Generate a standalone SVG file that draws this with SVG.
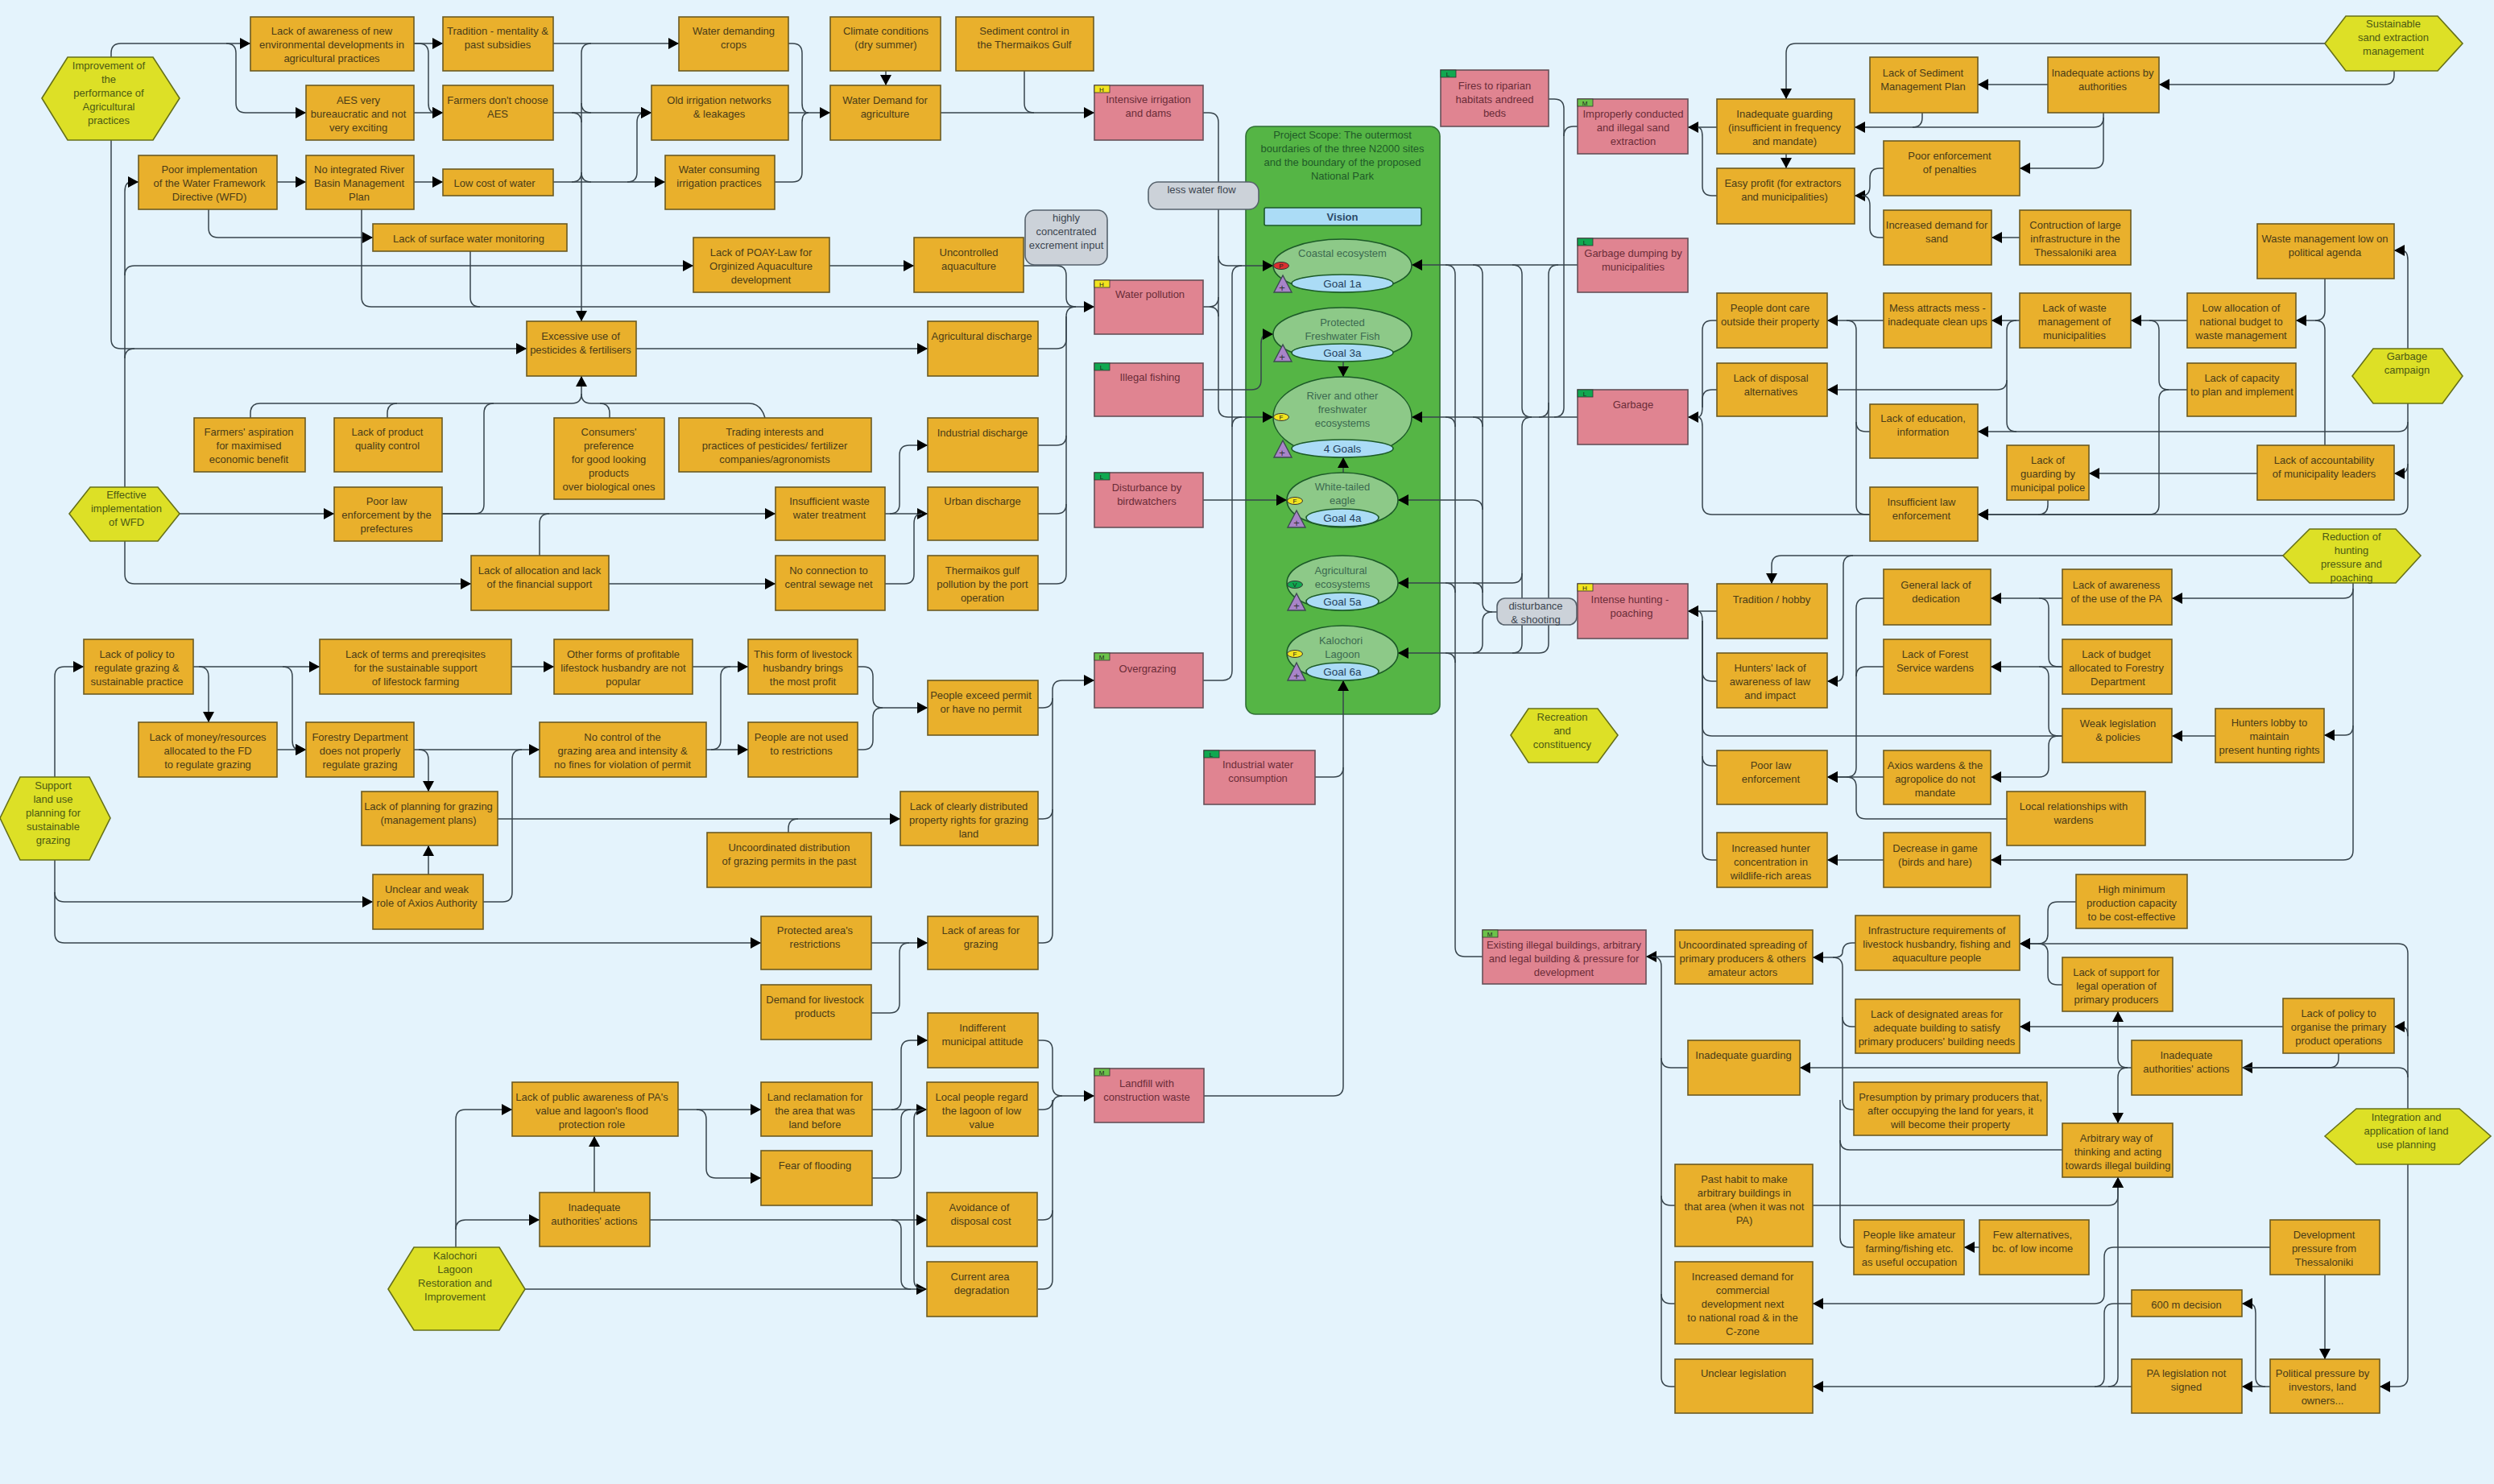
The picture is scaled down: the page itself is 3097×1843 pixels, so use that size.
<svg xmlns="http://www.w3.org/2000/svg" width="3097" height="1843" viewBox="0 0 3097 1843">
<style>
text{font-family:"Liberation Sans",Arial,sans-serif;font-size:13px;text-anchor:middle;fill:#4a3c18}
.o rect{fill:#e9b02c;stroke:#6b5a22;stroke-width:1.6}
.p>rect:not(.tg){fill:#e08491;stroke:#665058;stroke-width:1.6}
.p text{fill:#6a2c38}
.h polygon{fill:#dde026;stroke:#66701a;stroke-width:1.6}
.h text{fill:#4c5a14}
.g rect{fill:#ccd2d9;stroke:#56626c;stroke-width:1.6}
.g text{fill:#3c4650}
.c path{fill:none;stroke:#37444c;stroke-width:1.5}
.a{marker-end:url(#ah)}
.e ellipse.m{fill:#8dc988;stroke:#1c5a28;stroke-width:1.6}
.e ellipse.b{fill:#abdcf6;stroke:#1c5a28;stroke-width:1.6}
.e text{fill:#3c6a50}
.e text.l{fill:#24405c;font-size:13.5px}
.e polygon{fill:#a884c8;stroke:#3c4a50;stroke-width:1.4}
.tg{stroke:#333;stroke-width:.8}
.tt{font-size:8px;fill:#222!important}
</style>
<defs>
<marker id="ah" markerUnits="userSpaceOnUse" markerWidth="14" markerHeight="14" refX="13" refY="7" orient="auto"><path d="M0 0L13 7L0 14z" fill="#000"/></marker>
</defs>
<rect width="3097" height="1843" fill="#e4f3fc"/>
<g id="scope"><rect x="1547" y="157" width="241" height="730" rx="12" fill="#55b545" stroke="#2f6e34" stroke-width="1.6"/>
<text x="1667" y="172" style="fill:#1f5a28">Project Scope: The outermost<tspan x="1667" dy="17">bourdaries of the three N2000 sites</tspan><tspan x="1667" dy="17">and the boundary of the proposed</tspan><tspan x="1667" dy="17">National Park</tspan></text></g>
<g id="connectors" class="c">
<path class="a" d="M138 71V66Q138 54 150 54H311"/>
<path class="a" d="M281 54Q293 54 293 66V128Q293 140 305 140H380"/>
<path class="a" d="M138 174V421Q138 433 150 433H654"/>
<path d="M155 605V445Q155 433 167 433"/>
<path class="a" d="M155 445V342Q155 330 167 330H861"/>
<path class="a" d="M155 342V238Q155 226 163 226H172"/>
<path class="a" d="M514 54H550"/>
<path class="a" d="M514 54H520Q532 54 532 66V128Q532 140 540 140H550"/>
<path class="a" d="M514 140H550"/>
<path class="a" d="M687 54H843"/>
<path class="a" d="M734 54Q722 54 722 66V399"/>
<path class="a" d="M687 140H809"/>
<path class="a" d="M687 226H826"/>
<path d="M710 140Q722 140 722 152M734 140Q722 140 722 128M710 226Q722 226 722 214M734 226Q722 226 722 214"/>
<path class="a" d="M779 226Q791 226 791 214V152Q791 140 801 140H809"/>
<path class="a" d="M344 226H380"/>
<path class="a" d="M514 226H550"/>
<path class="a" d="M259 260V283Q259 295 271 295H463"/>
<path class="a" d="M449 260V369Q449 381 461 381H1359"/>
<path d="M584 312V369Q584 381 596 381"/>
<path class="a" d="M790 433H1152"/>
<path class="a" d="M311 519V513Q311 501 323 501H710Q722 501 722 489V467"/>
<path d="M481 519V513Q481 501 493 501"/>
<path d="M549 638H590Q601 638 601 626V513Q601 501 613 501"/>
<path d="M757 519V513Q757 501 745 501H734Q722 501 722 489"/>
<path d="M950 519Q945 501 930 501H745"/>
<path class="a" d="M223 638H415"/>
<path class="a" d="M549 638H963"/>
<path d="M670 690V650Q670 638 682 638"/>
<path class="a" d="M155 672V713Q155 725 167 725H585"/>
<path class="a" d="M756 725H963"/>
<path class="a" d="M1099 638H1152"/>
<path class="a" d="M1105 638Q1117 638 1117 626V565Q1117 553 1129 553H1152"/>
<path d="M1099 725H1123Q1135 725 1135 713V650Q1135 638 1145 638"/>
<path d="M1289 433H1312Q1324 433 1324 421V393Q1324 381 1336 381"/>
<path d="M1289 553H1312Q1324 553 1324 541V393"/>
<path d="M1289 638H1312Q1324 638 1324 626V541"/>
<path d="M1289 725H1312Q1324 725 1324 713V626"/>
<path d="M1271 330H1312Q1324 330 1324 342V369Q1324 381 1336 381"/>
<path class="a" d="M1030 330H1135"/>
<path d="M979 54H984Q996 54 996 66V128Q996 140 1004 140"/>
<path d="M962 226H984Q996 226 996 214V152Q996 140 1004 140"/>
<path class="a" d="M979 140H1031"/>
<path class="a" d="M1100 88V106"/>
<path class="a" d="M1168 140H1359"/>
<path d="M1272 88V128Q1272 140 1284 140"/>
<path class="a" d="M1494 140H1501Q1513 140 1513 152V318Q1513 330 1525 330H1581"/>
<path class="a" d="M1513 318V506Q1513 518 1525 518H1581"/>
<path d="M1494 381H1501Q1513 381 1513 369M1501 381Q1513 381 1513 393"/>
<path class="a" d="M1494 484H1554Q1566 484 1566 472V427Q1566 415 1574 415H1581"/>
<path d="M1494 845H1518Q1530 845 1530 833V342Q1530 330 1542 330"/>
<path d="M1530 530Q1530 518 1542 518"/>
<path class="a" d="M1494 621H1598"/>
<path class="a" d="M1668 449V468"/>
<path class="a" d="M1668 587V568"/>
<path class="a" d="M1633 965H1656Q1668 965 1668 953V845"/>
<path d="M1495 1361H1656Q1668 1361 1668 1349V953"/>
<path class="a" d="M1959 329H1753"/>
<path d="M1795 329Q1807 329 1807 341V1176Q1807 1188 1819 1188H1841"/>
<path d="M1795 518Q1807 518 1807 530M1795 724Q1807 724 1807 736M1795 811Q1807 811 1807 823"/>
<path d="M1859 760H1853Q1841 760 1841 748V341Q1841 329 1829 329"/>
<path d="M1829 518Q1841 518 1841 530M1829 621Q1841 621 1841 633M1829 724Q1841 724 1841 736"/>
<path class="a" d="M1853 760Q1841 760 1841 772V799Q1841 811 1829 811H1736"/>
<path class="a" d="M1829 621H1736"/>
<path class="a" d="M1829 724H1736"/>
<path d="M1878 329Q1890 329 1890 341V506Q1890 518 1902 518"/>
<path d="M1902 518Q1890 518 1890 530V712Q1890 724 1878 724H1829"/>
<path d="M1890 712V799Q1890 811 1878 811H1829"/>
<path d="M1935 329Q1923 329 1923 341V506Q1923 518 1911 518"/>
<path d="M1923 500V799Q1923 811 1911 811H1878"/>
<path d="M1923 123H1930Q1942 123 1942 135V506Q1942 518 1930 518"/>
<path d="M1959 157H1954Q1942 157 1942 169"/>
<path class="a" d="M1959 518H1753"/>
<path class="a" d="M2887 54H2230Q2218 54 2218 66V123"/>
<path class="a" d="M2973 88V93Q2973 105 2961 105H2681"/>
<path class="a" d="M2543 105H2456"/>
<path class="a" d="M2387 140V146Q2387 158 2375 158H2303"/>
<path d="M2612 140V146Q2612 158 2600 158H2375"/>
<path class="a" d="M2612 146V197Q2612 209 2600 209H2508"/>
<path class="a" d="M2132 158H2096"/>
<path d="M2132 243H2126Q2114 243 2114 231V170Q2114 158 2108 158"/>
<path class="a" d="M2218 191V209"/>
<path class="a" d="M2339 209H2334Q2322 209 2322 221V231Q2322 243 2312 243H2303"/>
<path d="M2339 295H2334Q2322 295 2322 283V255Q2322 243 2312 243"/>
<path class="a" d="M2508 295H2473"/>
<path class="a" d="M2887 346V386Q2887 398 2875 398H2851"/>
<path class="a" d="M2716 398H2646"/>
<path class="a" d="M2508 398H2473"/>
<path class="a" d="M2339 398H2269"/>
<path d="M2716 484H2693Q2681 484 2681 472V410Q2681 398 2669 398"/>
<path class="a" d="M2693 484Q2681 484 2681 496V627Q2681 639 2669 639H2456"/>
<path class="a" d="M2504 398Q2492 398 2492 410V472Q2492 484 2480 484H2269"/>
<path d="M2492 472V524Q2492 536 2504 536"/>
<path class="a" d="M2990 501V524Q2990 536 2978 536H2456"/>
<path class="a" d="M2990 433V323Q2990 311 2982 311H2973"/>
<path class="a" d="M2990 524V627Q2990 639 2978 639H2456"/>
<path class="a" d="M2990 576Q2990 588 2980 588H2973"/>
<path class="a" d="M2803 588H2594"/>
<path d="M2887 553V410Q2887 398 2875 398"/>
<path d="M2543 621V627Q2543 639 2531 639"/>
<path d="M2322 536H2317Q2305 536 2305 524V410Q2305 398 2293 398"/>
<path d="M2322 639H2317Q2305 639 2305 627V524"/>
<path class="a" d="M2132 398H2126Q2114 398 2114 410V506Q2114 518 2108 518H2096"/>
<path d="M2132 484H2126Q2114 484 2114 496V506"/>
<path d="M2322 639H2126Q2114 639 2114 627V530Q2114 518 2108 518"/>
<path class="a" d="M2835 690H2212Q2200 690 2200 702V725"/>
<path class="a" d="M2301 690Q2289 690 2289 702V834Q2289 846 2281 846H2269"/>
<path class="a" d="M2922 724V731Q2922 743 2910 743H2697"/>
<path class="a" d="M2922 731V901Q2922 913 2912 913H2886"/>
<path class="a" d="M2922 901V1056Q2922 1068 2910 1068H2472"/>
<path class="a" d="M2561 743H2472"/>
<path class="a" d="M2561 828H2472"/>
<path d="M2561 828H2556Q2544 828 2544 816V755Q2544 743 2532 743"/>
<path class="a" d="M2751 914H2697"/>
<path d="M2561 914H2556Q2544 914 2544 902V840Q2544 828 2532 828"/>
<path class="a" d="M2556 914Q2544 914 2544 926V953Q2544 965 2532 965H2472"/>
<path class="a" d="M2561 914H2126Q2114 914 2114 902V771Q2114 759 2108 759H2096"/>
<path class="a" d="M2132 759H2096"/>
<path d="M2132 846H2126Q2114 846 2114 834V771"/>
<path d="M2132 951H2126Q2114 951 2114 939V771"/>
<path d="M2132 1068H2126Q2114 1068 2114 1056V939"/>
<path class="a" d="M2339 743H2317Q2305 743 2305 755V953Q2305 965 2293 965H2269"/>
<path d="M2339 828H2317Q2305 828 2305 840"/>
<path class="a" d="M2339 965H2269"/>
<path d="M2492 1017H2317Q2305 1017 2305 1005V977Q2305 965 2293 965"/>
<path class="a" d="M2339 1068H2269"/>
<path class="a" d="M2080 1188H2044"/>
<path class="a" d="M2304 1171H2300Q2288 1171 2288 1183Q2288 1189 2276 1189H2251"/>
<path d="M2304 1275H2300Q2288 1275 2288 1263V1201Q2288 1189 2276 1189"/>
<path d="M2304 1378H2300Q2288 1378 2288 1366V1263"/>
<path d="M2561 1428H2297Q2285 1428 2285 1416V1366"/>
<path d="M2302 1549H2297Q2285 1549 2285 1537V1416"/>
<path d="M2096 1326H2075Q2063 1326 2063 1314V1200Q2063 1188 2051 1188"/>
<path d="M2080 1497H2075Q2063 1497 2063 1485V1314"/>
<path d="M2080 1619H2075Q2063 1619 2063 1607V1485"/>
<path d="M2080 1722H2075Q2063 1722 2063 1710V1607"/>
<path class="a" d="M2647 1326H2235"/>
<path class="a" d="M2642 1326Q2630 1326 2630 1314V1256"/>
<path class="a" d="M2642 1326Q2630 1326 2630 1338V1395"/>
<path class="a" d="M2835 1275H2508"/>
<path class="a" d="M2904 1308V1314Q2904 1326 2892 1326H2784"/>
<path class="a" d="M2578 1120H2555Q2543 1120 2543 1132V1160Q2543 1172 2531 1172H2508"/>
<path d="M2561 1223H2555Q2543 1223 2543 1211V1184Q2543 1172 2531 1172"/>
<path class="a" d="M2990 1377V1184Q2990 1172 2978 1172H2508"/>
<path class="a" d="M2990 1287Q2990 1275 2982 1275H2973"/>
<path d="M2990 1338Q2990 1326 2978 1326H2784"/>
<path class="a" d="M2990 1446V1710Q2990 1722 2978 1722H2955"/>
<path class="a" d="M2887 1583V1688"/>
<path class="a" d="M2819 1549H2625Q2613 1549 2613 1561V1607Q2613 1619 2601 1619H2251"/>
<path d="M2647 1619H2625Q2613 1619 2613 1631V1710Q2613 1722 2601 1722"/>
<path class="a" d="M2819 1722H2784"/>
<path class="a" d="M2813 1722Q2801 1722 2801 1710V1631Q2801 1619 2793 1619H2784"/>
<path class="a" d="M2647 1722H2251"/>
<path class="a" d="M2618 1722Q2630 1722 2630 1710V1462"/>
<path class="a" d="M2251 1497H2618Q2630 1497 2630 1485V1462"/>
<path class="a" d="M2458 1549H2439"/>
<path class="a" d="M68 965V840Q68 828 80 828H104"/>
<path class="a" d="M68 1068V1108Q68 1120 80 1120H463"/>
<path class="a" d="M68 1108V1159Q68 1171 80 1171H945"/>
<path class="a" d="M240 828H397"/>
<path class="a" d="M247 828Q259 828 259 840V897"/>
<path class="a" d="M351 828Q363 828 363 840V919Q363 931 371 931H380"/>
<path class="a" d="M344 931H380"/>
<path class="a" d="M514 931H670"/>
<path class="a" d="M520 931Q532 931 532 943V983"/>
<path class="a" d="M532 1086V1050"/>
<path d="M600 1120H624Q636 1120 636 1108V943Q636 931 648 931"/>
<path class="a" d="M618 1017H1118"/>
<path d="M979 1034V1029Q979 1017 991 1017"/>
<path class="a" d="M635 828H688"/>
<path class="a" d="M860 828H929"/>
<path class="a" d="M877 931H929"/>
<path d="M883 931Q895 931 895 919V840Q895 828 907 828"/>
<path class="a" d="M1065 828H1072Q1084 828 1084 840V867Q1084 879 1096 879H1152"/>
<path d="M1065 931H1072Q1084 931 1084 919V891Q1084 879 1096 879"/>
<path class="a" d="M1289 879H1295Q1307 879 1307 867V857Q1307 845 1319 845H1359"/>
<path d="M1289 1017H1295Q1307 1017 1307 1005V867"/>
<path d="M1289 1171H1295Q1307 1171 1307 1159V1005"/>
<path class="a" d="M1082 1171H1152"/>
<path d="M1082 1258H1105Q1117 1258 1117 1246V1183Q1117 1171 1129 1171"/>
<path class="a" d="M566 1549V1390Q566 1378 578 1378H636"/>
<path class="a" d="M566 1527Q566 1515 578 1515H670"/>
<path class="a" d="M652 1601H1151"/>
<path class="a" d="M738 1481V1411"/>
<path class="a" d="M807 1515H1151"/>
<path d="M1107 1515Q1119 1515 1119 1527V1589Q1119 1601 1131 1601"/>
<path class="a" d="M842 1378H945"/>
<path class="a" d="M865 1378Q877 1378 877 1390V1451Q877 1463 889 1463H945"/>
<path class="a" d="M1083 1378H1151"/>
<path class="a" d="M1107 1378Q1119 1378 1119 1366V1304Q1119 1292 1131 1292H1152"/>
<path d="M1083 1463H1107Q1119 1463 1119 1451V1390Q1119 1378 1131 1378"/>
<path d="M1147 1378Q1135 1378 1135 1390V1589Q1135 1601 1147 1601"/>
<path class="a" d="M1289 1292H1295Q1307 1292 1307 1304V1349Q1307 1361 1319 1361H1359"/>
<path d="M1289 1378H1295Q1307 1378 1307 1366"/>
<path d="M1289 1515H1295Q1307 1515 1307 1503V1373Q1307 1361 1319 1361"/>
<path d="M1289 1601H1295Q1307 1601 1307 1589V1503"/>
</g>
<g id="vision"><rect x="1570" y="258" width="195" height="22" rx="2" fill="#abdcf6" stroke="#1c5a28" stroke-width="1.6"/><text x="1667" y="274" style="fill:#2c4a68;font-weight:bold">Vision</text></g>
<g id="coastal" class="e"><ellipse class="m" cx="1667" cy="330" rx="86" ry="33"/><text x="1667" y="319">Coastal ecosystem</text><ellipse class="b" cx="1667" cy="352" rx="63" ry="11"/><text class="l" x="1667" y="357">Goal 1a</text><ellipse cx="1591" cy="330" rx="9.5" ry="4.5" fill="#d93030" stroke="#333"/><text class="tt" x="1591" y="333">P</text><polygon points="1593,342 1582,363 1604,363"/><text x="1592" y="362" style="fill:#333">+</text></g>
<g id="fish" class="e"><ellipse class="m" cx="1667" cy="415" rx="86" ry="33"/><text x="1667" y="405">Protected<tspan x="1667" dy="17">Freshwater Fish</tspan></text><ellipse class="b" cx="1667" cy="438" rx="63" ry="11"/><text class="l" x="1667" y="443">Goal 3a</text><polygon points="1593,428 1582,449 1604,449"/><text x="1592" y="448" style="fill:#333">+</text></g>
<g id="river" class="e"><ellipse class="m" cx="1667" cy="518" rx="86" ry="50"/><text x="1667" y="496">River and other<tspan x="1667" dy="17">freshwater</tspan><tspan x="1667" dy="17">ecosystems</tspan></text><ellipse class="b" cx="1667" cy="557" rx="63" ry="11"/><text class="l" x="1667" y="562">4 Goals</text><ellipse cx="1591" cy="518" rx="9.5" ry="4.5" fill="#f2e41f" stroke="#333"/><text class="tt" x="1591" y="521">F</text><polygon points="1593,547 1582,568 1604,568"/><text x="1592" y="567" style="fill:#333">+</text></g>
<g id="eagle" class="e"><ellipse class="m" cx="1667" cy="621" rx="69" ry="34"/><text x="1667" y="609">White-tailed<tspan x="1667" dy="17">eagle</tspan></text><ellipse class="b" cx="1667" cy="643" rx="45" ry="11"/><text class="l" x="1667" y="648">Goal 4a</text><ellipse cx="1608" cy="622" rx="9.5" ry="4.5" fill="#f2e41f" stroke="#333"/><text class="tt" x="1608" y="625">F</text><polygon points="1610,634 1599,655 1621,655"/><text x="1610" y="654" style="fill:#333">+</text></g>
<g id="agri" class="e"><ellipse class="m" cx="1667" cy="724" rx="69" ry="34"/><text x="1665" y="713">Agricultural<tspan x="1667" dy="17">ecosystems</tspan></text><ellipse class="b" cx="1667" cy="747" rx="45" ry="11"/><text class="l" x="1667" y="752">Goal 5a</text><ellipse cx="1608" cy="726" rx="9.5" ry="4.5" fill="#10a850" stroke="#333"/><text class="tt" x="1608" y="729">V</text><polygon points="1610,737 1599,758 1621,758"/><text x="1610" y="757" style="fill:#333">+</text></g>
<g id="kalochori" class="e"><ellipse class="m" cx="1667" cy="811" rx="69" ry="34"/><text x="1665" y="800">Kalochori<tspan x="1667" dy="17">Lagoon</tspan></text><ellipse class="b" cx="1667" cy="834" rx="45" ry="11"/><text class="l" x="1667" y="839">Goal 6a</text><ellipse cx="1608" cy="812" rx="9.5" ry="4.5" fill="#f2e41f" stroke="#333"/><text class="tt" x="1608" y="815">F</text><polygon points="1610,823 1599,845 1621,845"/><text x="1610" y="844" style="fill:#333">+</text></g>

<g id="h1" class="h"><polygon points="52,122 84,71 190,71 223,122 190,174 84,174"/><text x="135" y="86">Improvement of<tspan x="135" dy="17">the</tspan><tspan x="135" dy="17">performance of</tspan><tspan x="135" dy="17">Agricultural</tspan><tspan x="135" dy="17">practices</tspan></text></g>
<g id="h2" class="h"><polygon points="86,638 112,605 196,605 223,638 196,672 112,672"/><text x="157" y="619">Effective<tspan x="157" dy="17">implementation</tspan><tspan x="157" dy="17">of WFD</tspan></text></g>
<g id="h3" class="h"><polygon points="0,1016 25,965 111,965 137,1016 111,1068 25,1068"/><text x="66" y="980">Support<tspan x="66" dy="17">land use</tspan><tspan x="66" dy="17">planning for</tspan><tspan x="66" dy="17">sustainable</tspan><tspan x="66" dy="17">grazing</tspan></text></g>
<g id="h4" class="h"><polygon points="482,1601 514,1549 620,1549 652,1601 620,1652 514,1652"/><text x="565" y="1564">Kalochori<tspan x="565" dy="17">Lagoon</tspan><tspan x="565" dy="17">Restoration and</tspan><tspan x="565" dy="17">Improvement</tspan></text></g>
<g id="h5" class="h"><polygon points="2887,54 2913,20 3027,20 3058,54 3027,88 2913,88"/><text x="2972" y="34">Sustainable<tspan x="2972" dy="17">sand extraction</tspan><tspan x="2972" dy="17">management</tspan></text></g>
<g id="h6" class="h"><polygon points="2921,467 2947,433 3033,433 3058,467 3033,501 2947,501"/><text x="2989" y="447">Garbage<tspan x="2989" dy="17">campaign</tspan></text></g>
<g id="h7" class="h"><polygon points="2835,690 2868,657 2975,657 3006,690 2975,724 2868,724"/><text x="2920" y="671">Reduction of<tspan x="2920" dy="17">hunting</tspan><tspan x="2920" dy="17">pressure and</tspan><tspan x="2920" dy="17">poaching</tspan></text></g>
<g id="h8" class="h"><polygon points="2887,1411 2926,1377 3054,1377 3093,1411 3054,1446 2926,1446"/><text x="2988" y="1392">Integration and<tspan x="2988" dy="17">application of land</tspan><tspan x="2988" dy="17">use planning</tspan></text></g>
<g id="h9" class="h"><polygon points="1876,913 1898,880 1984,880 2009,913 1984,947 1898,947"/><text x="1940" y="895">Recreation<tspan x="1940" dy="17">and</tspan><tspan x="1940" dy="17">constituency</tspan></text></g>

<g id="g1" class="g"><rect x="1426" y="226" width="137" height="34" rx="12"/><text x="1492" y="240">less water flow</text></g>
<g id="g2" class="g"><rect x="1273" y="261" width="102" height="68" rx="12"/><text x="1324" y="275">highly<tspan x="1324" dy="17">concentrated</tspan><tspan x="1324" dy="17">excrement input</tspan></text></g>
<g id="g3" class="g"><rect x="1859" y="743" width="99" height="33" rx="10"/><text x="1907" y="757">disturbance<tspan x="1907" dy="17">&amp; shooting</tspan></text></g>

<g id="p1" class="p"><rect x="1359" y="106" width="135" height="68"/><rect class="tg" x="1359" y="106" width="19" height="9" fill="#f2e41f"/><text class="tt" x="1368" y="114">H</text><text x="1426" y="128">Intensive irrigation<tspan x="1426" dy="17">and dams</tspan></text></g>
<g id="p2" class="p"><rect x="1359" y="348" width="135" height="67"/><rect class="tg" x="1359" y="348" width="19" height="9" fill="#f2e41f"/><text class="tt" x="1368" y="356">H</text><text x="1428" y="370">Water pollution</text></g>
<g id="p3" class="p"><rect x="1359" y="451" width="135" height="66"/><rect class="tg" x="1359" y="451" width="19" height="9" fill="#10a850"/><text class="tt" x="1368" y="459">L</text><text x="1428" y="473">Illegal fishing</text></g>
<g id="p4" class="p"><rect x="1359" y="587" width="135" height="68"/><rect class="tg" x="1359" y="587" width="19" height="9" fill="#10a850"/><text class="tt" x="1368" y="595">L</text><text x="1424" y="610">Disturbance by<tspan x="1424" dy="17">birdwatchers</tspan></text></g>
<g id="p5" class="p"><rect x="1359" y="811" width="135" height="68"/><rect class="tg" x="1359" y="811" width="19" height="9" fill="#6cc24a"/><text class="tt" x="1368" y="819">M</text><text x="1425" y="835">Overgrazing</text></g>
<g id="p6" class="p"><rect x="1495" y="932" width="138" height="67"/><rect class="tg" x="1495" y="932" width="19" height="9" fill="#10a850"/><text class="tt" x="1504" y="940">L</text><text x="1562" y="954">Industrial water<tspan x="1562" dy="17">consumption</tspan></text></g>
<g id="p7" class="p"><rect x="1359" y="1327" width="136" height="67"/><rect class="tg" x="1359" y="1327" width="19" height="9" fill="#6cc24a"/><text class="tt" x="1368" y="1335">M</text><text x="1424" y="1350">Landfill with<tspan x="1424" dy="17">construction waste</tspan></text></g>
<g id="p8" class="p"><rect x="1789" y="87" width="134" height="70"/><rect class="tg" x="1789" y="87" width="19" height="9" fill="#10a850"/><text class="tt" x="1798" y="95">L</text><text x="1856" y="111">Fires to riparian<tspan x="1856" dy="17">habitats andreed</tspan><tspan x="1856" dy="17">beds</tspan></text></g>
<g id="p9" class="p"><rect x="1959" y="123" width="137" height="68"/><rect class="tg" x="1959" y="123" width="19" height="9" fill="#6cc24a"/><text class="tt" x="1968" y="131">M</text><text x="2028" y="146">Improperly conducted<tspan x="2028" dy="17">and illegal sand</tspan><tspan x="2028" dy="17">extraction</tspan></text></g>
<g id="p10" class="p"><rect x="1959" y="296" width="137" height="67"/><rect class="tg" x="1959" y="296" width="19" height="9" fill="#10a850"/><text class="tt" x="1968" y="304">L</text><text x="2028" y="319">Garbage dumping by<tspan x="2028" dy="17">municipalities</tspan></text></g>
<g id="p11" class="p"><rect x="1959" y="484" width="137" height="68"/><rect class="tg" x="1959" y="484" width="19" height="9" fill="#10a850"/><text class="tt" x="1968" y="492">L</text><text x="2028" y="507">Garbage</text></g>
<g id="p12" class="p"><rect x="1959" y="725" width="137" height="68"/><rect class="tg" x="1959" y="725" width="19" height="9" fill="#f2e41f"/><text class="tt" x="1968" y="733">H</text><text x="2024" y="749">Intense hunting -<tspan x="2026" dy="17">poaching</tspan></text></g>
<g id="p13" class="p"><rect x="1841" y="1155" width="203" height="67"/><rect class="tg" x="1841" y="1155" width="19" height="9" fill="#6cc24a"/><text class="tt" x="1850" y="1163">M</text><text x="1942" y="1178">Existing illegal buildings, arbitrary<tspan x="1942" dy="17">and legal building &amp; pressure for</tspan><tspan x="1942" dy="17">development</tspan></text></g>

<g id="o1" class="o"><rect x="311" y="21" width="203" height="67"/><text x="412" y="43">Lack of awareness of new<tspan x="412" dy="17">environmental developments in</tspan><tspan x="412" dy="17">agricultural practices</tspan></text></g>
<g id="o2" class="o"><rect x="550" y="21" width="137" height="67"/><text x="618" y="43">Tradition - mentality &amp;<tspan x="618" dy="17">past subsidies</tspan></text></g>
<g id="o3" class="o"><rect x="380" y="106" width="134" height="68"/><text x="445" y="129">AES very<tspan x="445" dy="17">bureaucratic and not</tspan><tspan x="445" dy="17">very exciting</tspan></text></g>
<g id="o4" class="o"><rect x="550" y="106" width="137" height="68"/><text x="618" y="129">Farmers don't choose<tspan x="618" dy="17">AES</tspan></text></g>
<g id="o5" class="o"><rect x="172" y="193" width="172" height="67"/><text x="260" y="215">Poor implementation<tspan x="260" dy="17">of the Water Framework</tspan><tspan x="260" dy="17">Directive (WFD)</tspan></text></g>
<g id="o6" class="o"><rect x="380" y="193" width="134" height="67"/><text x="446" y="215">No integrated River<tspan x="446" dy="17">Basin Management</tspan><tspan x="446" dy="17">Plan</tspan></text></g>
<g id="o7" class="o"><rect x="550" y="210" width="137" height="33"/><text x="614" y="232">Low cost of water</text></g>
<g id="o8" class="o"><rect x="463" y="278" width="241" height="34"/><text x="582" y="301">Lack of surface water monitoring</text></g>
<g id="o9" class="o"><rect x="654" y="399" width="136" height="68"/><text x="721" y="422">Excessive use of<tspan x="721" dy="17">pesticides &amp; fertilisers</tspan></text></g>
<g id="o10" class="o"><rect x="241" y="519" width="138" height="67"/><text x="309" y="541">Farmers' aspiration<tspan x="309" dy="17">for maximised</tspan><tspan x="309" dy="17">economic benefit</tspan></text></g>
<g id="o11" class="o"><rect x="415" y="519" width="134" height="67"/><text x="481" y="541">Lack of product<tspan x="481" dy="17">quality control</tspan></text></g>
<g id="o12" class="o"><rect x="688" y="519" width="137" height="101"/><text x="756" y="541">Consumers'<tspan x="756" dy="17">preference</tspan><tspan x="756" dy="17">for good looking</tspan><tspan x="756" dy="17">products</tspan><tspan x="756" dy="17">over biological ones</tspan></text></g>
<g id="o13" class="o"><rect x="843" y="21" width="136" height="67"/><text x="911" y="43">Water demanding<tspan x="911" dy="17">crops</tspan></text></g>
<g id="o14" class="o"><rect x="809" y="106" width="170" height="68"/><text x="893" y="129">Old irrigation networks<tspan x="893" dy="17">&amp; leakages</tspan></text></g>
<g id="o15" class="o"><rect x="826" y="193" width="136" height="67"/><text x="893" y="215">Water consuming<tspan x="893" dy="17">irrigation practices</tspan></text></g>
<g id="o16" class="o"><rect x="1031" y="21" width="137" height="67"/><text x="1100" y="43">Climate conditions<tspan x="1100" dy="17">(dry summer)</tspan></text></g>
<g id="o17" class="o"><rect x="1031" y="106" width="137" height="68"/><text x="1099" y="129">Water Demand for<tspan x="1099" dy="17">agriculture</tspan></text></g>
<g id="o18" class="o"><rect x="1187" y="21" width="171" height="67"/><text x="1272" y="43">Sediment control in<tspan x="1272" dy="17">the Thermaikos Gulf</tspan></text></g>
<g id="o19" class="o"><rect x="861" y="295" width="169" height="68"/><text x="945" y="318">Lack of POAY-Law for<tspan x="945" dy="17">Orginized Aquaculture</tspan><tspan x="945" dy="17">development</tspan></text></g>
<g id="o20" class="o"><rect x="1135" y="295" width="136" height="68"/><text x="1203" y="318">Uncontrolled<tspan x="1203" dy="17">aquaculture</tspan></text></g>
<g id="o21" class="o"><rect x="1152" y="399" width="137" height="68"/><text x="1219" y="422">Agricultural discharge</text></g>
<g id="o22" class="o"><rect x="843" y="519" width="239" height="67"/><text x="962" y="541">Trading interests and<tspan x="962" dy="17">practices of pesticides/ fertilizer</tspan><tspan x="962" dy="17">companies/agronomists</tspan></text></g>
<g id="o23" class="o"><rect x="1152" y="519" width="137" height="67"/><text x="1220" y="542">Industrial discharge</text></g>
<g id="o24" class="o"><rect x="415" y="605" width="134" height="67"/><text x="480" y="627">Poor law<tspan x="480" dy="17">enforcement by the</tspan><tspan x="480" dy="17">prefectures</tspan></text></g>
<g id="o25" class="o"><rect x="963" y="605" width="136" height="66"/><text x="1030" y="627">Insufficient waste<tspan x="1030" dy="17">water treatment</tspan></text></g>
<g id="o26" class="o"><rect x="1152" y="605" width="137" height="66"/><text x="1220" y="627">Urban discharge</text></g>
<g id="o27" class="o"><rect x="585" y="690" width="171" height="68"/><text x="670" y="713">Lack of allocation and lack<tspan x="670" dy="17">of the financial support</tspan></text></g>
<g id="o28" class="o"><rect x="963" y="690" width="136" height="68"/><text x="1029" y="713">No connection to<tspan x="1029" dy="17">central sewage net</tspan></text></g>
<g id="o29" class="o"><rect x="1152" y="690" width="137" height="68"/><text x="1220" y="713">Thermaikos gulf<tspan x="1220" dy="17">pollution by the port</tspan><tspan x="1220" dy="17">operation</tspan></text></g>
<g id="o30" class="o"><rect x="104" y="794" width="136" height="68"/><text x="170" y="817">Lack of policy to<tspan x="170" dy="17">regulate grazing &amp;</tspan><tspan x="170" dy="17">sustainable practice</tspan></text></g>
<g id="o31" class="o"><rect x="397" y="794" width="238" height="68"/><text x="516" y="817">Lack of terms and prereqisites<tspan x="516" dy="17">for the sustainable support</tspan><tspan x="516" dy="17">of lifestock farming</tspan></text></g>
<g id="o32" class="o"><rect x="688" y="794" width="172" height="68"/><text x="774" y="817">Other forms of profitable<tspan x="774" dy="17">lifestock husbandry are not</tspan><tspan x="774" dy="17">popular</tspan></text></g>
<g id="o33" class="o"><rect x="929" y="794" width="136" height="68"/><text x="997" y="817">This form of livestock<tspan x="997" dy="17">husbandry brings</tspan><tspan x="997" dy="17">the most profit</tspan></text></g>
<g id="o34" class="o"><rect x="172" y="897" width="172" height="68"/><text x="258" y="920">Lack of money/resources<tspan x="258" dy="17">allocated to the FD</tspan><tspan x="258" dy="17">to regulate grazing</tspan></text></g>
<g id="o35" class="o"><rect x="380" y="897" width="134" height="68"/><text x="447" y="920">Forestry Department<tspan x="447" dy="17">does not properly</tspan><tspan x="447" dy="17">regulate grazing</tspan></text></g>
<g id="o36" class="o"><rect x="670" y="897" width="207" height="68"/><text x="773" y="920">No control of the<tspan x="773" dy="17">grazing area and intensity &amp;</tspan><tspan x="773" dy="17">no fines for violation of permit</tspan></text></g>
<g id="o37" class="o"><rect x="929" y="897" width="136" height="68"/><text x="995" y="920">People are not used<tspan x="995" dy="17">to restrictions</tspan></text></g>
<g id="o38" class="o"><rect x="1152" y="845" width="137" height="68"/><text x="1218" y="868">People exceed permit<tspan x="1218" dy="17">or have no permit</tspan></text></g>
<g id="o39" class="o"><rect x="449" y="983" width="169" height="67"/><text x="532" y="1006">Lack of planning for grazing<tspan x="532" dy="17">(management plans)</tspan></text></g>
<g id="o40" class="o"><rect x="1118" y="983" width="171" height="67"/><text x="1203" y="1006">Lack of clearly distributed<tspan x="1203" dy="17">property rights for grazing</tspan><tspan x="1203" dy="17">land</tspan></text></g>
<g id="o41" class="o"><rect x="878" y="1034" width="204" height="68"/><text x="980" y="1057">Uncoordinated distribution<tspan x="980" dy="17">of grazing permits in the past</tspan></text></g>
<g id="o42" class="o"><rect x="463" y="1086" width="137" height="68"/><text x="530" y="1109">Unclear and weak<tspan x="530" dy="17">role of Axios Authority</tspan></text></g>
<g id="o43" class="o"><rect x="945" y="1138" width="137" height="66"/><text x="1012" y="1160">Protected area's<tspan x="1012" dy="17">restrictions</tspan></text></g>
<g id="o44" class="o"><rect x="1152" y="1138" width="137" height="66"/><text x="1218" y="1160">Lack of areas for<tspan x="1218" dy="17">grazing</tspan></text></g>
<g id="o45" class="o"><rect x="945" y="1223" width="137" height="68"/><text x="1012" y="1246">Demand for livestock<tspan x="1012" dy="17">products</tspan></text></g>
<g id="o46" class="o"><rect x="1152" y="1258" width="137" height="68"/><text x="1220" y="1281">Indifferent<tspan x="1220" dy="17">municipal attitude</tspan></text></g>
<g id="o47" class="o"><rect x="636" y="1344" width="206" height="67"/><text x="735" y="1367">Lack of public awareness of PA's<tspan x="735" dy="17">value and lagoon's flood</tspan><tspan x="735" dy="17">protection role</tspan></text></g>
<g id="o48" class="o"><rect x="945" y="1344" width="138" height="67"/><text x="1012" y="1367">Land reclamation for<tspan x="1012" dy="17">the area that was</tspan><tspan x="1012" dy="17">land before</tspan></text></g>
<g id="o49" class="o"><rect x="1151" y="1344" width="138" height="67"/><text x="1219" y="1367">Local people regard<tspan x="1219" dy="17">the lagoon of low</tspan><tspan x="1219" dy="17">value</tspan></text></g>
<g id="o50" class="o"><rect x="945" y="1429" width="138" height="68"/><text x="1012" y="1452">Fear of flooding</text></g>
<g id="o51" class="o"><rect x="670" y="1481" width="137" height="67"/><text x="738" y="1504">Inadequate<tspan x="738" dy="17">authorities' actions</tspan></text></g>
<g id="o52" class="o"><rect x="1151" y="1481" width="137" height="67"/><text x="1216" y="1504">Avoidance of<tspan x="1218" dy="17">disposal cost</tspan></text></g>
<g id="o53" class="o"><rect x="1151" y="1567" width="137" height="68"/><text x="1217" y="1590">Current area<tspan x="1219" dy="17">degradation</tspan></text></g>
<g id="o54" class="o"><rect x="2322" y="71" width="134" height="69"/><text x="2388" y="95">Lack of Sediment<tspan x="2388" dy="17">Management Plan</tspan></text></g>
<g id="o55" class="o"><rect x="2543" y="71" width="138" height="69"/><text x="2611" y="95">Inadequate actions by<tspan x="2611" dy="17">authorities</tspan></text></g>
<g id="o56" class="o"><rect x="2132" y="123" width="171" height="68"/><text x="2216" y="146">Inadequate guarding<tspan x="2216" dy="17">(insufficient in frequency</tspan><tspan x="2216" dy="17">and mandate)</tspan></text></g>
<g id="o57" class="o"><rect x="2132" y="209" width="171" height="69"/><text x="2214" y="232">Easy profit (for extractors<tspan x="2216" dy="17">and municipalities)</tspan></text></g>
<g id="o58" class="o"><rect x="2339" y="175" width="169" height="68"/><text x="2421" y="198">Poor enforcement<tspan x="2421" dy="17">of penalties</tspan></text></g>
<g id="o59" class="o"><rect x="2339" y="261" width="134" height="68"/><text x="2405" y="284">Increased demand for<tspan x="2405" dy="17">sand</tspan></text></g>
<g id="o60" class="o"><rect x="2508" y="261" width="138" height="68"/><text x="2577" y="284">Contruction of large<tspan x="2577" dy="17">infrastructure in the</tspan><tspan x="2577" dy="17">Thessaloniki area</tspan></text></g>
<g id="o61" class="o"><rect x="2803" y="278" width="170" height="68"/><text x="2887" y="301">Waste management low on<tspan x="2887" dy="17">political agenda</tspan></text></g>
<g id="o62" class="o"><rect x="2132" y="364" width="137" height="68"/><text x="2198" y="387">People dont care<tspan x="2198" dy="17">outside their property</tspan></text></g>
<g id="o63" class="o"><rect x="2339" y="364" width="134" height="68"/><text x="2406" y="387">Mess attracts mess -<tspan x="2406" dy="17">inadequate clean ups</tspan></text></g>
<g id="o64" class="o"><rect x="2508" y="364" width="138" height="68"/><text x="2576" y="387">Lack of waste<tspan x="2576" dy="17">management of</tspan><tspan x="2576" dy="17">municipalities</tspan></text></g>
<g id="o65" class="o"><rect x="2716" y="364" width="135" height="68"/><text x="2783" y="387">Low allocation of<tspan x="2783" dy="17">national budget to</tspan><tspan x="2783" dy="17">waste management</tspan></text></g>
<g id="o66" class="o"><rect x="2132" y="451" width="137" height="66"/><text x="2199" y="474">Lack of disposal<tspan x="2199" dy="17">alternatives</tspan></text></g>
<g id="o67" class="o"><rect x="2716" y="451" width="135" height="66"/><text x="2784" y="474">Lack of capacity<tspan x="2784" dy="17">to plan and implement</tspan></text></g>
<g id="o68" class="o"><rect x="2322" y="502" width="134" height="67"/><text x="2388" y="524">Lack of education,<tspan x="2388" dy="17">information</tspan></text></g>
<g id="o69" class="o"><rect x="2492" y="553" width="102" height="68"/><text x="2543" y="576">Lack of<tspan x="2543" dy="17">guarding by</tspan><tspan x="2543" dy="17">municipal police</tspan></text></g>
<g id="o70" class="o"><rect x="2803" y="553" width="170" height="68"/><text x="2886" y="576">Lack of accountability<tspan x="2886" dy="17">of municipality leaders</tspan></text></g>
<g id="o71" class="o"><rect x="2322" y="605" width="134" height="67"/><text x="2386" y="628">Insufficient law<tspan x="2386" dy="17">enforcement</tspan></text></g>
<g id="o72" class="o"><rect x="2132" y="725" width="137" height="68"/><text x="2200" y="749">Tradition / hobby</text></g>
<g id="o73" class="o"><rect x="2132" y="811" width="137" height="68"/><text x="2198" y="834">Hunters' lack of<tspan x="2198" dy="17">awareness of law</tspan><tspan x="2198" dy="17">and impact</tspan></text></g>
<g id="o74" class="o"><rect x="2339" y="707" width="133" height="69"/><text x="2404" y="731">General lack of<tspan x="2404" dy="17">dedication</tspan></text></g>
<g id="o75" class="o"><rect x="2561" y="707" width="136" height="69"/><text x="2628" y="731">Lack of awareness<tspan x="2628" dy="17">of the use of the PA</tspan></text></g>
<g id="o76" class="o"><rect x="2339" y="794" width="133" height="68"/><text x="2403" y="817">Lack of Forest<tspan x="2403" dy="17">Service wardens</tspan></text></g>
<g id="o77" class="o"><rect x="2561" y="794" width="136" height="68"/><text x="2628" y="817">Lack of budget<tspan x="2628" dy="17">allocated to Forestry</tspan><tspan x="2630" dy="17">Department</tspan></text></g>
<g id="o78" class="o"><rect x="2561" y="880" width="136" height="67"/><text x="2630" y="903">Weak legislation<tspan x="2630" dy="17">&amp; policies</tspan></text></g>
<g id="o79" class="o"><rect x="2751" y="880" width="135" height="67"/><text x="2818" y="902">Hunters lobby to<tspan x="2818" dy="17">maintain</tspan><tspan x="2818" dy="17">present hunting rights</tspan></text></g>
<g id="o80" class="o"><rect x="2132" y="932" width="137" height="67"/><text x="2199" y="955">Poor law<tspan x="2199" dy="17">enforcement</tspan></text></g>
<g id="o81" class="o"><rect x="2339" y="932" width="133" height="67"/><text x="2403" y="955">Axios wardens &amp; the<tspan x="2403" dy="17">agropolice do not</tspan><tspan x="2403" dy="17">mandate</tspan></text></g>
<g id="o82" class="o"><rect x="2492" y="983" width="172" height="67"/><text x="2575" y="1006">Local relationships with<tspan x="2575" dy="17">wardens</tspan></text></g>
<g id="o83" class="o"><rect x="2132" y="1034" width="137" height="68"/><text x="2199" y="1058">Increased hunter<tspan x="2199" dy="17">concentration in</tspan><tspan x="2199" dy="17">wildlife-rich areas</tspan></text></g>
<g id="o84" class="o"><rect x="2339" y="1034" width="133" height="68"/><text x="2403" y="1058">Decrease in game<tspan x="2403" dy="17">(birds and hare)</tspan></text></g>
<g id="o85" class="o"><rect x="2578" y="1086" width="138" height="67"/><text x="2647" y="1109">High minimum<tspan x="2647" dy="17">production capacity</tspan><tspan x="2647" dy="17">to be cost-effective</tspan></text></g>
<g id="o86" class="o"><rect x="2080" y="1155" width="171" height="67"/><text x="2164" y="1178">Uncoordinated spreading of<tspan x="2164" dy="17">primary producers &amp; others</tspan><tspan x="2164" dy="17">amateur actors</tspan></text></g>
<g id="o87" class="o"><rect x="2304" y="1137" width="204" height="68"/><text x="2405" y="1160">Infrastructure requirements of<tspan x="2405" dy="17">livestock husbandry, fishing and</tspan><tspan x="2405" dy="17">aquaculture people</tspan></text></g>
<g id="o88" class="o"><rect x="2561" y="1189" width="137" height="67"/><text x="2628" y="1212">Lack of support for<tspan x="2628" dy="17">legal operation of</tspan><tspan x="2628" dy="17">primary producers</tspan></text></g>
<g id="o89" class="o"><rect x="2304" y="1241" width="204" height="67"/><text x="2405" y="1264">Lack of designated areas for<tspan x="2405" dy="17">adequate building to satisfy</tspan><tspan x="2405" dy="17">primary producers' building needs</tspan></text></g>
<g id="o90" class="o"><rect x="2835" y="1240" width="138" height="68"/><text x="2904" y="1263">Lack of policy to<tspan x="2904" dy="17">organise the primary</tspan><tspan x="2904" dy="17">product operations</tspan></text></g>
<g id="o91" class="o"><rect x="2096" y="1292" width="139" height="68"/><text x="2165" y="1315">Inadequate guarding</text></g>
<g id="o92" class="o"><rect x="2647" y="1292" width="137" height="68"/><text x="2715" y="1315">Inadequate<tspan x="2715" dy="17">authorities' actions</tspan></text></g>
<g id="o93" class="o"><rect x="2302" y="1344" width="240" height="66"/><text x="2422" y="1367">Presumption by primary producers that,<tspan x="2422" dy="17">after occupying the land for years, it</tspan><tspan x="2422" dy="17">will become their property</tspan></text></g>
<g id="o94" class="o"><rect x="2561" y="1395" width="137" height="67"/><text x="2628" y="1418">Arbitrary way of<tspan x="2630" dy="17">thinking and acting</tspan><tspan x="2630" dy="17">towards illegal building</tspan></text></g>
<g id="o95" class="o"><rect x="2080" y="1446" width="171" height="102"/><text x="2166" y="1469">Past habit to make<tspan x="2166" dy="17">arbitrary buildings in</tspan><tspan x="2166" dy="17">that area (when it was not</tspan><tspan x="2166" dy="17">PA)</tspan></text></g>
<g id="o96" class="o"><rect x="2302" y="1515" width="137" height="68"/><text x="2371" y="1538">People like amateur<tspan x="2371" dy="17">farming/fishing etc.</tspan><tspan x="2371" dy="17">as useful occupation</tspan></text></g>
<g id="o97" class="o"><rect x="2458" y="1515" width="136" height="68"/><text x="2524" y="1538">Few alternatives,<tspan x="2524" dy="17">bc. of low income</tspan></text></g>
<g id="o98" class="o"><rect x="2819" y="1515" width="136" height="68"/><text x="2886" y="1538">Development<tspan x="2886" dy="17">pressure from</tspan><tspan x="2886" dy="17">Thessaloniki</tspan></text></g>
<g id="o99" class="o"><rect x="2080" y="1567" width="171" height="102"/><text x="2164" y="1590">Increased demand for<tspan x="2164" dy="17">commercial</tspan><tspan x="2164" dy="17">development next</tspan><tspan x="2164" dy="17">to national road &amp; in the</tspan><tspan x="2164" dy="17">C-zone</tspan></text></g>
<g id="o100" class="o"><rect x="2647" y="1602" width="137" height="33"/><text x="2715" y="1625">600 m decision</text></g>
<g id="o101" class="o"><rect x="2080" y="1688" width="171" height="67"/><text x="2165" y="1710">Unclear legislation</text></g>
<g id="o102" class="o"><rect x="2647" y="1688" width="137" height="67"/><text x="2715" y="1710">PA legislation not<tspan x="2715" dy="17">signed</tspan></text></g>
<g id="o103" class="o"><rect x="2819" y="1688" width="136" height="67"/><text x="2884" y="1710">Political pressure by<tspan x="2884" dy="17">investors, land</tspan><tspan x="2884" dy="17">owners...</tspan></text></g>
</svg>
